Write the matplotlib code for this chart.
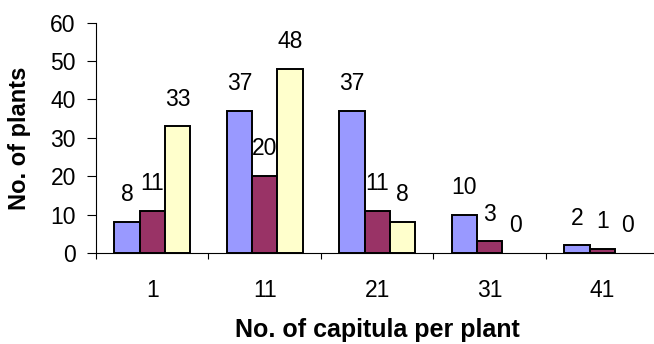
import numpy as np
import matplotlib
matplotlib.use('Agg')
import matplotlib.pyplot as plt

plt.rcParams['font.family'] = ['Liberation Sans', 'DejaVu Sans']

categories = ['1', '11', '21', '31', '41']
series_a = [8, 37, 37, 10, 2]
series_b = [11, 20, 11, 3, 1]
series_c = [33, 48, 8, 0, 0]

colors = ['#9999FF', '#993366', '#FFFFCC']
bar_w = 0.225

fig = plt.figure(figsize=(6.54, 3.44), dpi=100)
ax = fig.add_axes([0.1468, 0.2645, 0.86, 0.6695])

x = np.arange(len(categories))
for i, (vals, col) in enumerate(zip([series_a, series_b, series_c], colors)):
    pos = x + (i - 1) * bar_w
    # zero-height bars get no outline
    lw = [1.4 if v > 0 else 0 for v in vals]
    ax.bar(pos, vals, width=bar_w, color=col, edgecolor='black', linewidth=lw, zorder=3)
    for px, v in zip(pos, vals):
        ax.annotate(str(v), (px, v), xytext=(0, 15), textcoords='offset points',
                    ha='center', va='baseline', fontsize=16.5)

ax.set_xlim(-0.5, len(categories) - 0.5)
ax.set_ylim(0, 60)
ax.set_yticks(range(0, 61, 10))
ax.set_xticks(x)
ax.set_xticklabels(categories)
ax.set_xticks(np.arange(-0.5, len(categories)), minor=True)

ax.spines['top'].set_visible(False)
ax.spines['right'].set_visible(False)
ax.spines['left'].set_linewidth(0.8)
ax.spines['bottom'].set_linewidth(0.8)

ax.tick_params(axis='y', direction='out', length=6.5, width=0.8, pad=8, labelsize=16.5)
ax.tick_params(axis='x', which='major', length=0, pad=19, labelsize=16.5)
ax.tick_params(axis='x', which='minor', direction='out', length=4.3, width=0.8)

ax.set_xlabel('No. of capitula per plant', fontsize=18, fontweight='bold', labelpad=11)
ax.set_ylabel('No. of plants', fontsize=17, fontweight='bold', labelpad=14)

fig.savefig('out.png', dpi=100)
